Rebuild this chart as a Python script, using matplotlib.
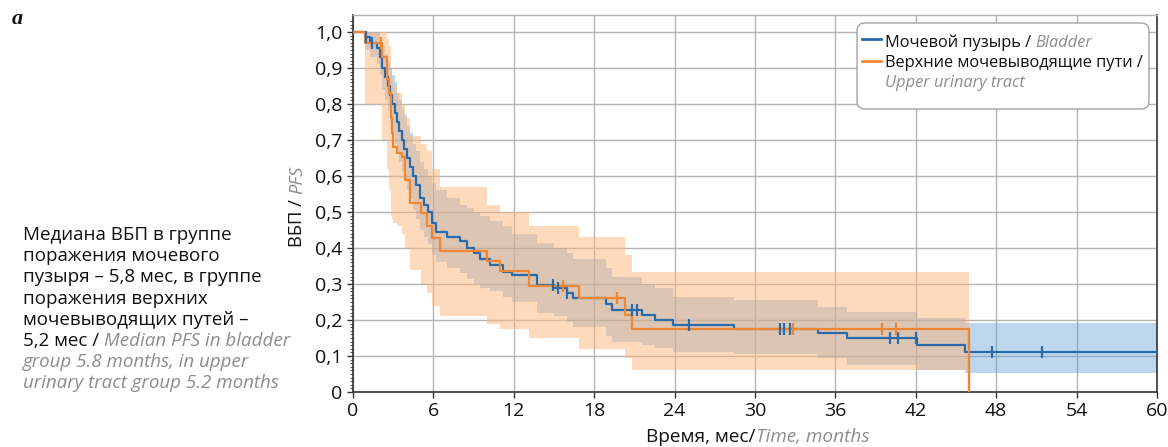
import numpy as np
import matplotlib
matplotlib.use("Agg")
import matplotlib.pyplot as plt
from matplotlib.patches import FancyBboxPatch
from matplotlib.lines import Line2D

plt.rcParams['font.family'] = ['Open Sans', 'DejaVu Sans']

# ---------------- data ----------------
bl_t = [0, 0.9, 1.3, 1.8, 2.0, 2.2, 2.4, 2.6, 2.75, 2.9, 3.1, 3.3, 3.45, 3.65, 3.8, 4.0,
        4.25, 4.5, 4.7, 5.0, 5.3, 5.6, 5.9, 6.2, 7.0, 8.0, 8.5, 9.0, 9.5, 10.2, 11.2, 11.9,
        13.7, 15.0, 16.0, 16.4, 18.9, 19.3, 21.6, 22.5, 23.9, 28.4, 34.7, 36.9, 42.1, 45.7]
bl_s = [1.0, 0.985, 0.97, 0.955, 0.93, 0.90, 0.875, 0.85, 0.825, 0.80, 0.775, 0.75, 0.725,
        0.70, 0.675, 0.65, 0.625, 0.60, 0.575, 0.54, 0.52, 0.50, 0.47, 0.445, 0.43, 0.42,
        0.40, 0.385, 0.37, 0.353, 0.333, 0.325, 0.297, 0.29, 0.275, 0.26, 0.245, 0.228,
        0.214, 0.20, 0.186, 0.174, 0.164, 0.15, 0.13, 0.111]
bl_lo = [1.0, 0.95, 0.93, 0.91, 0.88, 0.84, 0.81, 0.78, 0.75, 0.72, 0.69, 0.67, 0.64, 0.61,
         0.59, 0.56, 0.535, 0.505, 0.48, 0.45, 0.43, 0.41, 0.38, 0.36, 0.345, 0.33, 0.315,
         0.30, 0.29, 0.28, 0.265, 0.25, 0.22, 0.21, 0.195, 0.18, 0.155, 0.14, 0.13, 0.122,
         0.11, 0.105, 0.095, 0.075, 0.06, 0.053]
bl_hi = [1.0, 1.0, 1.0, 1.0, 0.98, 0.96, 0.94, 0.92, 0.90, 0.88, 0.86, 0.83, 0.81, 0.79,
         0.77, 0.74, 0.72, 0.69, 0.67, 0.64, 0.62, 0.60, 0.58, 0.56, 0.54, 0.52, 0.51, 0.50,
         0.49, 0.475, 0.46, 0.44, 0.415, 0.40, 0.385, 0.37, 0.345, 0.32, 0.30, 0.289, 0.264,
         0.255, 0.236, 0.222, 0.205, 0.192]
bl_cens = [1.0, 1.4, 14.9, 15.3, 16.0, 20.8, 21.2, 25.1, 31.9, 32.2, 32.6, 40.1, 40.7, 42.0,
           47.7, 51.4]
bl_end = 60.0

up_t = [0, 0.9, 2.2, 2.5, 2.65, 2.8, 2.85, 2.9, 3.0, 3.3, 3.65, 3.9, 4.25, 5.1, 5.5, 5.9,
        6.5, 10.0, 11.0, 13.1, 16.9, 20.3, 20.8]
up_s = [1.0, 0.97, 0.93, 0.87, 0.83, 0.80, 0.76, 0.72, 0.68, 0.665, 0.653, 0.59, 0.525,
        0.497, 0.46, 0.427, 0.392, 0.365, 0.337, 0.295, 0.26, 0.214, 0.175]
up_lo = [1.0, 0.80, 0.70, 0.62, 0.56, 0.50, 0.49, 0.48, 0.47, 0.46, 0.44, 0.40, 0.34, 0.30,
         0.275, 0.24, 0.21, 0.19, 0.175, 0.15, 0.12, 0.095, 0.06]
up_hi = [1.0, 1.0, 1.0, 0.98, 0.96, 0.93, 0.90, 0.87, 0.85, 0.83, 0.80, 0.76, 0.71, 0.69,
         0.67, 0.62, 0.57, 0.52, 0.50, 0.46, 0.43, 0.38, 0.333]
up_cens = [2.1, 15.7, 19.7, 32.8, 39.5, 40.5]
up_end = 46.0

x_ticks = [0, 6, 12, 18, 24, 30, 36, 42, 48, 54, 60]
y_ticks = [0, 0.1, 0.2, 0.3, 0.4, 0.5, 0.6, 0.7, 0.8, 0.9, 1.0]
y_ticklabels = ['0', '0,1', '0,2', '0,3', '0,4', '0,5', '0,6', '0,7', '0,8', '0,9', '1,0']

lab_bl_ru = 'Мочевой пузырь / '
lab_bl_en = 'Bladder'
lab_up_ru = 'Верхние мочевыводящие пути /'
lab_up_en = 'Upper urinary tract'
ylab_ru, ylab_en = 'ВБП / ', 'PFS'
xlab_ru, xlab_en = 'Время, мес/', 'Time, months'
note_ru = ['Медиана ВБП в группе', 'поражения мочевого', 'пузыря – 5,8 мес, в группе',
           'поражения верхних', 'мочевыводящих путей –', '5,2 мес / ']
note_en = ['Median PFS in bladder', 'group 5.8 months, in upper',
           'urinary tract group 5.2 months']

# ---------------- style ----------------
C_BL = '#2a6cab'
C_UP = '#ee8633'
F_BL = '#5b9bd5'
F_UP = '#fcb77a'
GREY_TXT = '#8c8c8c'
W, H = 1168, 447

fig = plt.figure(figsize=(W / 100, H / 100), dpi=100)
ax = fig.add_axes([353 / W, 1 - 392 / H, 804 / W, 377 / H])


def step_val(t, s, x):
    i = np.searchsorted(np.asarray(t), x, side='right') - 1
    return np.asarray(s)[i]


# bands
bt = list(bl_t) + [bl_end]
ax.fill_between(bt, list(bl_lo) + [bl_lo[-1]], list(bl_hi) + [bl_hi[-1]], step='post',
                color=F_BL, alpha=0.4, lw=0, zorder=2)
ut = list(up_t) + [up_end]
ax.fill_between(ut, list(up_lo) + [up_lo[-1]], list(up_hi) + [up_hi[-1]], step='post',
                color=F_UP, alpha=0.5, lw=0, zorder=2)

# curves
ax.step(bt, list(bl_s) + [bl_s[-1]], where='post', color=C_BL, lw=1.6, zorder=4)
ax.step(ut + [up_end], list(up_s) + [up_s[-1], 0.0], where='post', color=C_UP, lw=1.6,
        zorder=5)
ax.plot([up_end, up_end], [up_s[-1], 0.0], color=C_UP, lw=1.6, zorder=5)

# censor marks
ax.plot(bl_cens, [step_val(bl_t, bl_s, c) for c in bl_cens], ls='none', marker='|',
        ms=8, mew=1.6, color=C_BL, zorder=6)
ax.plot(up_cens, [step_val(up_t, up_s, c) for c in up_cens], ls='none', marker='|',
        ms=8, mew=1.6, color=C_UP, zorder=6)

# axes
ax.set_xlim(0, 60)
ax.set_ylim(0, 1.047)
ax.set_xticks(x_ticks)
ax.set_yticks(y_ticks)
ax.set_yticklabels(y_ticklabels)
ax.set_yticks(np.arange(0, 1.04, 0.01), minor=True)
ax.grid(True, which='major', color='#b4b4b4', lw=1.0, zorder=0)
ax.set_axisbelow(True)
ax.tick_params(axis='both', which='major', labelsize=14, length=4, width=1,
               colors='#333333', labelcolor='#111111', pad=3.5)
ax.tick_params(axis='y', which='minor', length=2, width=0.8, colors='#555555')
for side in ['left', 'bottom', 'right']:
    ax.spines[side].set_color('#333333')
    ax.spines[side].set_linewidth(1.2)
ax.spines['top'].set_color('#b4b4b4')
ax.spines['top'].set_linewidth(1.0)

fig.canvas.draw()
r = fig.canvas.get_renderer()


def px(x, y):
    return x / W, 1 - y / H


# panel letter
fig.text(*px(12, 24), 'a', family='Liberation Serif', style='italic', weight='bold',
         fontsize=16, color='#111111')

# left note
fs_note = 13.5
LS = 21.2
for i, line in enumerate(note_ru):
    x, y = px(23, 240 + LS * i)
    t = fig.text(x, y, line, fontsize=fs_note, color='#111111', va='baseline')
t_last = t
fig.canvas.draw()
ext = t_last.get_window_extent(r)
fig.text(ext.x1 / W, 1 - (240 + LS * 5) / H, note_en[0], fontsize=fs_note, color=GREY_TXT,
         style='italic', va='baseline')
for j, line in enumerate(note_en[1:]):
    x, y = px(23, 240 + LS * (6 + j))
    fig.text(x, y, line, fontsize=fs_note, color=GREY_TXT, style='italic', va='baseline')

# y label (rotated, two styles)
fs_lab = 13.2
yl1 = fig.text(*px(302, 247), ylab_ru, rotation=90, rotation_mode='anchor', ha='left',
               va='baseline', fontsize=fs_lab, color='#111111')
fig.canvas.draw()
e = yl1.get_window_extent(r)
fig.text(302 / W, e.y1 / H, ylab_en, rotation=90, rotation_mode='anchor', ha='left',
         va='baseline', fontsize=fs_lab, color=GREY_TXT, style='italic')

# x label (two styles, centred)
fs_xl = 13.7
xl1 = fig.text(0, 1 - 442 / H, xlab_ru, fontsize=fs_xl, color='#111111', va='baseline')
xl2 = fig.text(0, 1 - 442 / H, xlab_en, fontsize=fs_xl, color=GREY_TXT, style='italic',
               va='baseline')
fig.canvas.draw()
w1 = xl1.get_window_extent(r).width
w2 = xl2.get_window_extent(r).width
cx = 758
xl1.set_x((cx - (w1 + w2) / 2) / W)
xl2.set_x((cx - (w1 + w2) / 2 + w1) / W)

# legend (manual, mixed styles)
tr = fig.dpi_scale_trans
box = FancyBboxPatch((857 / 100, (H - 109) / 100), (1149 - 857) / 100, (109 - 23) / 100,
                     boxstyle='round,pad=0,rounding_size=0.08', transform=tr,
                     facecolor='white', edgecolor='#9a9a9a', lw=0.9, zorder=10)
fig.add_artist(box)
fig.add_artist(Line2D([862 / 100, 881 / 100], [(H - 39) / 100] * 2, transform=tr,
                      color=C_BL, lw=2, zorder=11))
fig.add_artist(Line2D([862 / 100, 881 / 100], [(H - 61) / 100] * 2, transform=tr,
                      color=C_UP, lw=2, zorder=11))
fs_leg = 11.8
lg1 = fig.text(885 / W, 1 - 47 / H, lab_bl_ru, fontsize=fs_leg, color='#111111',
               va='baseline', zorder=12)
fig.canvas.draw()
e = lg1.get_window_extent(r)
fig.text(e.x1 / W, 1 - 47 / H, lab_bl_en, fontsize=fs_leg, color=GREY_TXT, style='italic',
         va='baseline', zorder=12)
fig.text(885 / W, 1 - 67 / H, lab_up_ru, fontsize=fs_leg, color='#111111', va='baseline',
         zorder=12)
fig.text(885 / W, 1 - 87 / H, lab_up_en, fontsize=fs_leg, color=GREY_TXT, style='italic',
         va='baseline', zorder=12)

fig.savefig('out.png', dpi=100)
